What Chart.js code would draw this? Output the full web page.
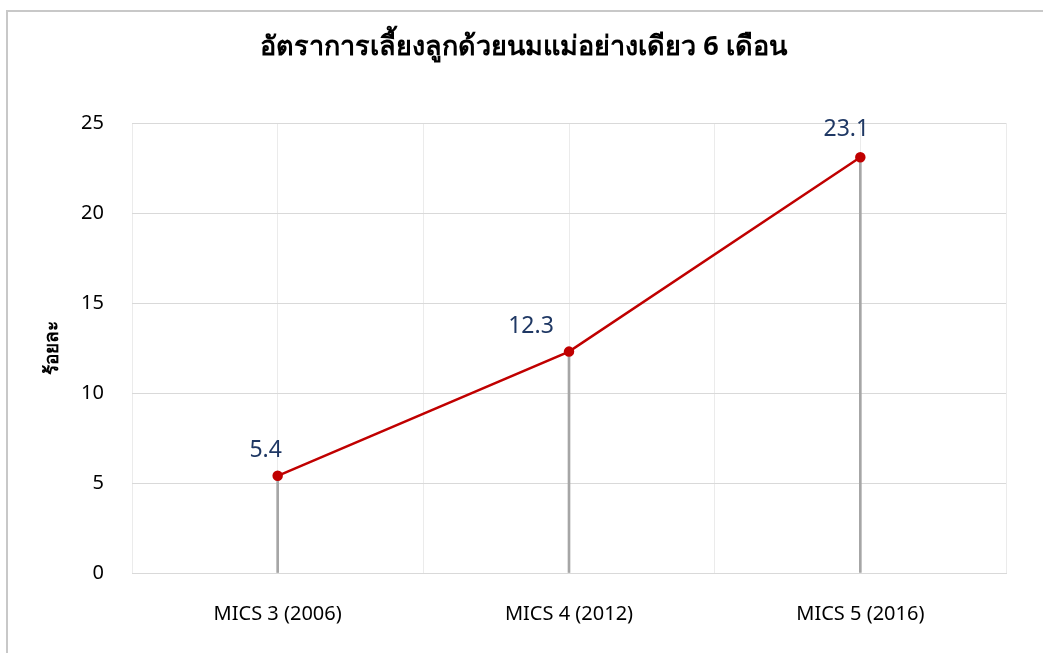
<!DOCTYPE html>
<html>
<head>
<meta charset="utf-8">
<script src="https://cdn.jsdelivr.net/npm/chart.js@4"></script>
<style>
  body { margin: 0; background: #fff; }
  .frame { position: absolute; left: 6px; top: 10px; width: 1100px; height: 700px; border: 2px solid #c8c8c8; }
  canvas { position: absolute; left: 0; top: 0; }
</style>
</head>
<body>
<div class="frame"></div>
<canvas id="chart" width="1043" height="653"></canvas>
<script>
var categories = ['MICS 3 (2006)', 'MICS 4 (2012)', 'MICS 5 (2016)']
var rates = [5.4, 12.3, 23.1]
var yTicks = [0, 5, 10, 15, 20, 25]
var chartTitle = 'อัตราการเลี้ยงลูกด้วยนมแม่อย่างเดียว 6 เดือน'
var yTitle = 'ร้อยละ'

var font = 'Tahoma, "Noto Sans", "DejaVu Sans", sans-serif'

// value labels above the points (shifted a bit like the original)
var valueLabels = {
    id: 'valueLabels',
    afterDatasetsDraw(chart, args, opts) {
        let ctx = chart.ctx
        let meta = chart.getDatasetMeta(1)
        ctx.save()
        ctx.font = '23px ' + font
        ctx.fillStyle = '#1f3864'
        ctx.textAlign = 'center'
        ctx.textBaseline = 'middle'
        meta.data.forEach(function(pt, i) {
            ctx.fillText(rates[i].toFixed(1), pt.x + opts.dx[i], pt.y + opts.dy[i])
        })
        ctx.restore()
    }
}

new Chart(document.getElementById('chart').getContext('2d'), {
    type: 'bar',
    data: {
        labels: categories,
        datasets: [{
            // thin drop lines down to the axis
            type: 'bar',
            data: rates,
            backgroundColor: '#a6a6a6',
            barThickness: 2,
            order: 2
        }, {
            type: 'line',
            data: rates,
            borderColor: '#c00000',
            backgroundColor: '#c00000',
            borderWidth: 2.5,
            pointRadius: 4,
            pointHoverRadius: 4,
            tension: 0,
            order: 1
        }]
    },
    options: {
        responsive: false,
        animation: false,
        layout: { padding: { left: 41, right: 37, top: 0, bottom: 0 } },
        plugins: {
            legend: { display: false },
            tooltip: { enabled: false },
            title: {
                display: true,
                text: chartTitle,
                color: '#000',
                font: { family: font, size: 27, weight: 'bold' },
                padding: { top: 31, bottom: 59.6 }
            },
            valueLabels: { dx: [-12, -38, -14], dy: [-25, -25, -28] }
        },
        scales: {
            x: {
                grid: { display: false },
                border: { color: '#d9d9d9' },
                ticks: { color: '#000', padding: 21, font: { family: font, size: 20 } },
                afterFit: function(s) { s.height = 80 }
            },
            // hidden helper axis: vertical grid at band edges and centres
            xGrid: {
                type: 'linear',
                position: 'top',
                offset: false,
                min: 0,
                max: categories.length,
                afterBuildTicks: function(s) {
                    let t = []
                    for (let i = 0; i <= categories.length * 2; i++) t.push({ value: i / 2 })
                    s.ticks = t
                },
                ticks: { display: false },
                grid: { color: '#ebebeb', drawTicks: false, offset: false },
                border: { display: false },
                afterFit: function(s) { s.height = 0 }
            },
            y: {
                min: 0,
                max: 25,
                afterBuildTicks: function(s) { s.ticks = yTicks.map(v => ({ value: v })) },
                grid: { color: '#d9d9d9', drawTicks: false },
                border: { display: false },
                ticks: { color: '#000', padding: 28, font: { family: font, size: 20 } },
                title: {
                    display: true,
                    text: yTitle,
                    color: '#000',
                    padding: 0,
                    font: { family: font, size: 19, weight: 'bold' }
                },
                afterFit: function(s) { s.width = 91 }
            }
        }
    },
    plugins: [valueLabels]
})
</script>
</body>
</html>
